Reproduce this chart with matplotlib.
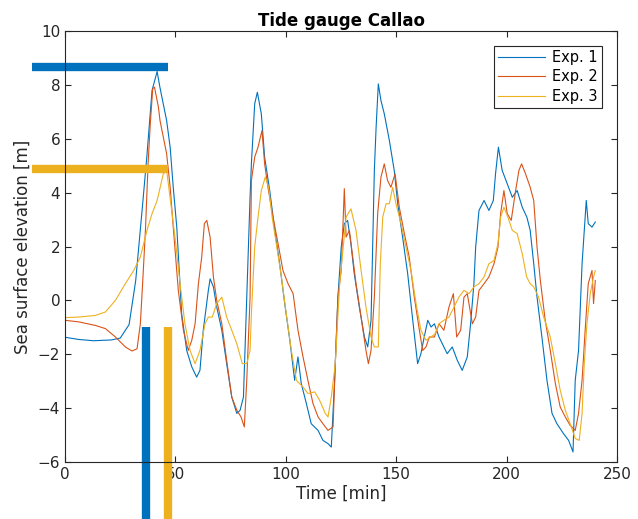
import matplotlib
matplotlib.use("Agg")
import matplotlib.pyplot as plt

# time [min] and sea surface elevation [m]
t1 = [0, 6, 13, 18, 21, 25, 29, 32, 35, 37, 39.4, 41.7, 43, 46, 47.6, 49, 50.6, 52.8, 55.1,
      57.4, 59.6, 61.1, 62.6, 64.9, 65.7, 67.2, 68.7, 71, 73.2, 75.5, 77.8, 79.3, 80.8, 82.3,
      83.8, 84.4, 85.9, 87.1, 88.9, 90.4, 92.7, 95, 97.2, 99.5, 101.8, 104, 105.5, 107, 109.3,
      111.5, 114.6, 116.8, 119.1, 120.6, 122.1, 123.6, 125.1, 126.5, 128, 129.5, 131, 133.3,
      135.6, 137.1, 138.6, 140.1, 140.9, 141.9, 143.1, 144.6, 146.9, 149.1, 150.7, 152.9,
      155.2, 157.5, 159.7, 161.2, 162.7, 164.3, 165.8, 167.3, 169.4, 171.6, 173.1, 175.4,
      177.7, 179.9, 182.2, 183.7, 185.2, 186, 187.5, 189.8, 192, 194, 195, 196.3, 198, 200.3,
      202.6, 204.8, 207.1, 209.2, 210.7, 212.3, 213.8, 216, 218.3, 220.6, 222.8, 225.8,
      228.1, 230.1, 231.1, 232.6, 234.2, 235.6, 236.1, 237, 238.7, 240.2]
h1 = [-1.37, -1.45, -1.5, -1.48, -1.47, -1.4, -0.9, 0.74, 3.45, 5.3, 7.8, 8.5, 7.9, 6.68,
      5.69, 4.2, 2.72, -0.49, -1.86, -2.47, -2.85, -2.6, -1.11, 0.37, 0.8, 0.5, -0.25, -1.11,
      -2.35, -3.59, -4.2, -4.08, -3.59, 0.12, 3.83, 5.07, 7.3, 7.73, 6.93, 5.32, 4.08, 2.6,
      1.36, -0.12, -1.48, -2.97, -2.1, -3.09, -3.83, -4.58, -4.83, -5.2, -5.32, -5.45, -2.97,
      0.12, 1.98, 2.85, 2.97, 2.1, 0.99, -0.25, -1.36, -1.73, -0.74, 4.83, 6.43, 8.04, 7.42,
      6.93, 5.94, 4.83, 3.59, 2.35, 0.99, -0.74, -2.35, -1.98, -1.36, -0.74, -0.99, -0.87,
      -1.36, -1.73, -1.98, -1.73, -2.23, -2.6, -2.1, -0.87, 0.62, 1.98, 3.34, 3.71, 3.34, 3.71,
      4.7, 5.69, 4.83, 4.33, 3.83, 4.08, 3.46, 3.09, 2.6, 1.36, 0.12, -1.36, -2.97, -4.2,
      -4.58, -4.95, -5.2, -5.63, -2.97, -1.86, 1.36, 3.09, 3.71, 2.85, 2.72, 2.91]

t2 = [0, 6.2, 13.7, 18.3, 22.8, 27.3, 30.3, 32.6, 34.1, 35.2, 36.4, 37.6, 38.6, 39.7, 40.5,
      42.3, 43, 44.5, 46, 47.6, 49, 51.3, 53.6, 55.8, 57.4, 58.9, 60.4, 61.9, 63.1, 64.2,
      65.7, 67.2, 68.7, 71, 73.2, 75.5, 77.8, 79.7, 81.2, 82.3, 83.8, 84.4, 85.9, 87.4, 89.2,
      90.4, 91.9, 94.2, 96.5, 98.7, 101, 103.3, 105.5, 107.8, 110, 112.3, 114.6, 116.8, 119.1,
      121.4, 122.4, 123.6, 125.1, 126.5, 127.3, 128.8, 130.3, 131.8, 134.1, 136.3, 137.4,
      138.6, 140.1, 141.6, 143.1, 144.6, 146.1, 147.6, 149.5, 151.4, 153.7, 155.9, 158.2,
      160.5, 162, 163.5, 165, 167.3, 169.4, 171.6, 173.9, 175.9, 177.4, 179.2, 180.7, 182.2,
      184.5, 186, 187.5, 189.8, 192, 194.3, 196.1, 197.3, 198.8, 200.3, 202.1, 204.1, 205.6,
      206.8, 208.6, 210.7, 212.3, 213.8, 215.3, 217.5, 219.8, 222.1, 224.3, 226.6, 228.8,
      231.1, 232.6, 234.2, 235.6, 237, 238.7, 239.4, 240.2]
h2 = [-0.74, -0.8, -0.93, -1.05, -1.36, -1.73, -1.88, -1.8, -0.87, 0.74, 2.6, 5.07, 6.56,
      7.86, 7.92, 7.17, 6.68, 6.06, 5.45, 4.2, 2.72, 0.37, -1.11, -1.86, -1.48, -0.87, 0.62,
      1.61, 2.85, 2.97, 2.35, 0.87, 0.0, -0.87, -2.23, -3.59, -4.08, -4.33, -4.7, -2.97, 0.12,
      4.45, 5.32, 5.69, 6.31, 5.07, 4.2, 3.09, 2.1, 1.11, 0.62, 0.25, -1.11, -2.1, -2.97,
      -3.83, -4.33, -4.58, -4.83, -4.7, -2.35, 0.12, 1.11, 4.15, 2.35, 2.6, 1.61, 0.62, -0.62,
      -1.86, -2.35, -1.86, 0.12, 3.22, 4.58, 5.07, 4.45, 4.2, 4.7, 3.46, 2.48, 1.61, 0.12,
      -1.11, -1.86, -1.73, -1.36, -1.36, -0.87, -1.11, -0.25, 0.25, -1.36, -1.11, 0.12, 0.25,
      -0.87, -0.62, 0.37, 0.62, 0.87, 1.36, 1.98, 3.22, 4.08, 3.22, 2.97, 4.08, 4.83, 5.07,
      4.7, 4.2, 3.71, 1.98, 0.74, -0.74, -1.86, -3.09, -3.96, -4.33, -4.64, -4.83, -4.2,
      -2.97, -1.11, 0.62, 1.11, -0.12, 0.74]

t3 = [0, 6.2, 13.7, 18.3, 22.8, 27.3, 31.1, 34.1, 37.1, 39.4, 41.7, 44.5, 46, 48.3, 49.8,
      52.1, 54.3, 56.6, 58.9, 61.1, 63.4, 64.9, 66.7, 68.7, 71, 73.2, 75.5, 77.8, 80.3, 82.3,
      83.8, 84.4, 85.9, 87.4, 88.9, 90.7, 92.2, 93.8, 95.7, 98, 100.2, 102.5, 104.8, 107.8,
      110, 113.1, 115.3, 117.9, 119.1, 120.6, 122.4, 124.4, 127.3, 129.5, 131.8, 134.1,
      136.3, 138.6, 140.1, 141.9, 142.8, 143.9, 145.4, 146.9, 148.4, 149.9, 152.2, 154.4,
      156.7, 159, 161.2, 163.5, 165.8, 167.6, 169.4, 171.6, 173.9, 176.2, 178.4, 180.7, 183,
      185.2, 187.5, 189.8, 192, 194.3, 196.1, 197.3, 198.8, 200.6, 202.6, 204.8, 207.1,
      209.1, 210.7, 212.3, 214.5, 216.8, 219.8, 222.1, 224.3, 226.6, 228.8, 231.1, 232.9,
      234.2, 235.2, 236.4, 237.9, 239.4, 240.2]
h3 = [-0.64, -0.62, -0.56, -0.43, 0.0, 0.62, 1.11, 1.61, 2.6, 3.22, 3.71, 4.7, 4.83, 3.34,
      2.35, 0.62, -0.87, -1.86, -2.35, -1.86, -0.87, -0.62, -0.62, -0.12, 0.12, -0.62, -1.11,
      -1.61, -2.35, -2.35, -1.86, -0.5, 1.98, 3.09, 4.08, 4.58, 4.2, 3.09, 2.1, 0.87, -0.5,
      -1.86, -2.97, -3.22, -3.46, -3.4, -3.71, -4.2, -4.33, -3.59, -2.35, 0.62, 3.09, 3.4,
      2.6, 1.11, -0.25, -1.36, -1.73, -1.73, 1.36, 3.09, 3.59, 3.59, 4.2, 3.59, 2.85, 1.98,
      1.11, -0.12, -1.11, -1.48, -1.36, -1.24, -0.87, -0.74, -0.62, -0.25, 0.12, 0.37, 0.25,
      0.5, 0.62, 0.87, 1.36, 1.48, 2.1, 3.09, 3.46, 3.09, 2.6, 2.48, 1.73, 0.87, 0.62, 0.5,
      0.12, -0.62, -1.36, -2.35, -3.34, -4.08, -4.58, -5.13, -5.2, -4.2, -2.35, -0.87, 0.25,
      0.87, 1.11]

labels = ["Exp. 1", "Exp. 2", "Exp. 3"]
colors = ["#0072BD", "#D95319", "#EDB120"]

# markers: max elevation and arrival time for Exp. 1 and Exp. 3
max_levels = [8.66, 4.89]
arrival_times = [36.5, 46.8]
marker_colors = ["#0072BD", "#EDB120"]

fig = plt.figure(figsize=(6.38, 5.19), dpi=100)
ax = fig.add_axes([0.102, 0.110, 0.865, 0.830])

for t, h, lab, c in zip([t1, t2, t3], [h1, h2, h3], labels, colors):
    ax.plot(t, h, color=c, lw=0.8, label=lab)

for lvl, ta, c in zip(max_levels, arrival_times, marker_colors):
    ax.plot([-15, 46.8], [lvl, lvl], color=c, lw=6, clip_on=False, solid_capstyle="butt")
    ax.plot([ta, ta], [-1.0, -8.3], color=c, lw=6, clip_on=False, solid_capstyle="butt")

ax.set_xlim(0, 250)
ax.set_ylim(-6, 10)
ax.set_xticks(range(0, 251, 50))
ax.set_yticks(range(-6, 11, 2))

axcol = "#262626"
for s in ax.spines.values():
    s.set_color(axcol)
    s.set_linewidth(0.8)
ax.tick_params(direction="in", top=True, right=True, colors=axcol, labelsize=11, length=4)

ax.set_xlabel("Time [min]", fontsize=12, color=axcol, labelpad=2)
ax.set_ylabel("Sea surface elevation [m]", fontsize=12, color=axcol, labelpad=4)
ax.set_title("Tide gauge Callao", fontsize=12, fontweight="bold", pad=4)

leg = ax.legend(loc="upper right", fontsize=10.5, fancybox=False, framealpha=1,
                handlelength=3.2, borderaxespad=1.0, labelspacing=0.3, handletextpad=0.5,
                borderpad=0.3)
leg.get_frame().set_edgecolor(axcol)
leg.get_frame().set_linewidth(0.8)

fig.savefig("out.png", dpi=100)
